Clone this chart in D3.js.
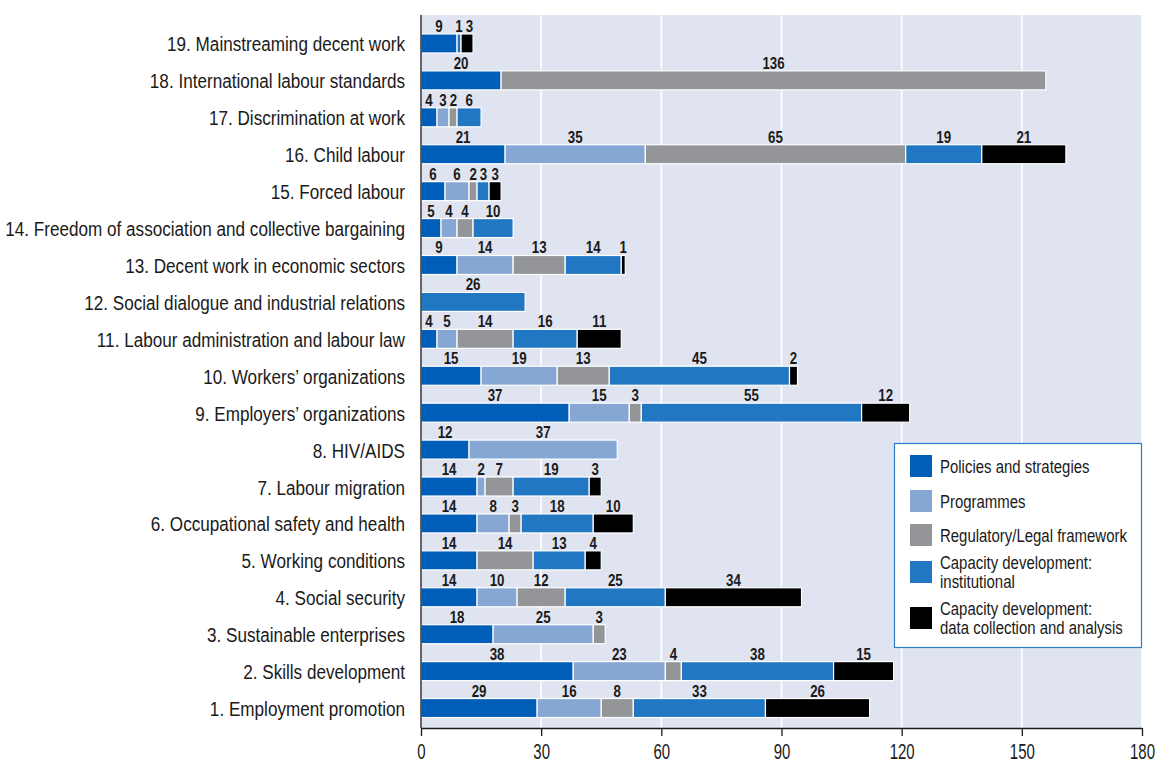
<!DOCTYPE html>
<html>
<head>
<meta charset="utf-8">
<script src="https://cdn.jsdelivr.net/npm/d3@7"></script>
<style>
  html, body { margin: 0; padding: 0; background: #fff; }
  svg { display: block; }
  text { font-family: "Liberation Sans", Arial, sans-serif; fill: #1a1a1a; }
</style>
</head>
<body>
<svg id="chart" width="1158" height="764"></svg>
<script>
// Outcome areas, bottom (1) to top (19)
const categories = [
  "1. Employment promotion",
  "2. Skills development",
  "3. Sustainable enterprises",
  "4. Social security",
  "5. Working conditions",
  "6. Occupational safety and health",
  "7. Labour migration",
  "8. HIV/AIDS",
  "9. Employers’ organizations",
  "10. Workers’ organizations",
  "11. Labour administration and labour law",
  "12. Social dialogue and industrial relations",
  "13. Decent work in economic sectors",
  "14. Freedom of association and collective bargaining",
  "15. Forced labour",
  "16. Child labour",
  "17. Discrimination at work",
  "18. International labour standards",
  "19. Mainstreaming decent work"
];

const seriesNames = [
  "Policies and strategies",
  "Programmes",
  "Regulatory/Legal framework",
  "Capacity development: institutional",
  "Capacity development: data collection and analysis"
];

// One value per category (same order as categories)
const policies      = [29, 38, 18, 14, 14, 14, 14, 12, 37, 15,  4,  0,  9,  5, 6, 21, 4, 20, 9];
const programmes    = [16, 23, 25, 10,  0,  8,  2, 37, 15, 19,  5,  0, 14,  4, 6, 35, 3,  0, 0];
const regulatory    = [ 8,  4,  3, 12, 14,  3,  7,  0,  3, 13, 14,  0, 13,  4, 2, 65, 2, 136, 0];
const institutional = [33, 38,  0, 25, 13, 18, 19,  0, 55, 45, 16, 26, 14, 10, 3, 19, 6,  0, 1];
const dataAnalysis  = [26, 15,  0, 34,  4, 10,  3,  0, 12,  2, 11,  0,  1,  0, 3, 21, 0,  0, 3];

const xTicks = [0, 30, 60, 90, 120, 150, 180];

const colors = ["#005eb8", "#86a7d4", "#939598", "#2277c3", "#000000"];

const seriesValues = [policies, programmes, regulatory, institutional, dataAnalysis];

const rows = categories.map((c, i) => {
  const r = { category: c };
  seriesNames.forEach((s, k) => { r[s] = seriesValues[k][i]; });
  return r;
});

const stacked = d3.stack().keys(seriesNames)(rows);

const svg = d3.select("#chart");
const plot = { left: 421, right: 1142, top: 15, bottom: 728 };

// Horizontal squeeze factor so a string at a given size fills a target width
function squeeze(str, size, weight, target) {
  const t = svg.append("text").attr("font-size", size).attr("font-weight", weight).text(str);
  const w = t.node().getComputedTextLength();
  t.remove();
  return target / w;
}
// Turn x/y placement into a translate + horizontal scale (condensed look)
function condense(sel, k) {
  sel.each(function () {
    const t = d3.select(this);
    const px = +t.attr("x") || 0, py = +t.attr("y") || 0;
    t.attr("x", 0).attr("y", 0).attr("dy", null)
      .attr("transform", `translate(${px},${py}) scale(${k},1)`);
  });
}

const x = d3.scaleLinear().domain([0, 180]).range([plot.left, plot.right]);
const y = d3.scaleBand()
  .domain(categories.slice().reverse())
  .range([24.5, 726])
  .padding(0);

// Plot background
svg.append("rect")
  .attr("x", plot.left).attr("y", plot.top)
  .attr("width", plot.right - plot.left)
  .attr("height", plot.bottom - plot.top)
  .attr("fill", "#dfe4f0");

// Vertical gridlines
svg.append("g")
  .selectAll("line")
  .data(xTicks.slice(1))
  .join("line")
  .attr("x1", d => x(d)).attr("x2", d => x(d))
  .attr("y1", plot.top).attr("y2", plot.bottom)
  .attr("stroke", "#ffffff")
  .attr("stroke-width", 1.6);

const barH = 19;
const barY = d => y(d.data.category) + y.bandwidth() / 2 - barH / 2 + 0.5;

// Stacked bar segments
const layers = svg.append("g")
  .selectAll("g")
  .data(stacked)
  .join("g")
  .attr("fill", (d, i) => colors[i]);

layers.selectAll("rect")
  .data(d => d.filter(s => s[1] - s[0] > 0))
  .join("rect")
  .attr("x", d => x(d[0]))
  .attr("y", barY)
  .attr("width", d => x(d[1]) - x(d[0]))
  .attr("height", barH)
  .attr("stroke", "#ffffff")
  .attr("stroke-width", 1.2);

// Segment value labels above each bar; neighbouring labels in a row are
// nudged right when they would touch
const valSize = 17;
const digitW = 7.4;
const kVal = squeeze("29", valSize, "bold", digitW * 2);
const labelData = [];
categories.forEach(cat => {
  let lastRight = -Infinity;
  stacked.forEach(layer => {
    const seg = layer.find(s => s.data.category === cat);
    const v = seg[1] - seg[0];
    if (v <= 0) return;
    const half = String(v).length * digitW / 2;
    let cx = x((seg[0] + seg[1]) / 2);
    if (cx - half < lastRight + 3) cx = lastRight + 3 + half;
    lastRight = cx + half;
    labelData.push({ seg, v, cx });
  });
});
const valLabels = svg.append("g")
  .selectAll("text")
  .data(labelData)
  .join("text")
  .attr("x", d => d.cx)
  .attr("y", d => barY(d.seg) - 2)
  .attr("text-anchor", "middle")
  .attr("font-size", valSize)
  .attr("font-weight", "bold")
  .text(d => d.v);
condense(valLabels, kVal);

// Left axis line
svg.append("line")
  .attr("x1", plot.left).attr("x2", plot.left)
  .attr("y1", plot.top).attr("y2", plot.bottom)
  .attr("stroke", "#1a1a1a").attr("stroke-width", 1.3);

// Category labels
const catSize = 21;
const kCat = squeeze("14. Freedom of association and collective bargaining", catSize, "normal", 400);
const catLabels = svg.append("g")
  .selectAll("text")
  .data(categories)
  .join("text")
  .attr("x", 405)
  .attr("y", d => y(d) + y.bandwidth() / 2 + 8.5)
  .attr("text-anchor", "end")
  .attr("font-size", catSize)
  .text(d => d);
condense(catLabels, kCat);

// Bottom axis
const xAxis = d3.axisBottom(x).tickValues(xTicks).tickSize(8).tickSizeOuter(0);
const gx = svg.append("g")
  .attr("transform", `translate(0,${plot.bottom})`)
  .call(xAxis);
gx.select(".domain").attr("stroke", "#1a1a1a").attr("stroke-width", 1.3);
gx.selectAll(".tick line").attr("stroke", "#1a1a1a").attr("stroke-width", 1.3);
const tickSize = 22;
const kTick = squeeze("180", tickSize, "normal", 25);
const tickText = gx.selectAll(".tick text")
  .attr("font-size", tickSize)
  .attr("y", 31)
  .attr("fill", "#1a1a1a")
  .attr("font-family", null);
condense(tickText, kTick);

// Legend
const legend = svg.append("g");
legend.append("rect")
  .attr("x", 894.5).attr("y", 443.5)
  .attr("width", 247).attr("height", 204)
  .attr("fill", "#ffffff")
  .attr("stroke", "#2a7bc8").attr("stroke-width", 1.2);

const legendItems = [
  { lines: ["Policies and strategies"], cy: 466 },
  { lines: ["Programmes"], cy: 501 },
  { lines: ["Regulatory/Legal framework"], cy: 535 },
  { lines: ["Capacity development:", "institutional"], cy: 572 },
  { lines: ["Capacity development:", "data collection and analysis"], cy: 618 }
];

const legSize = 18.5;
const kLeg = squeeze("Regulatory/Legal framework", legSize, "normal", 187);
legendItems.forEach((item, i) => {
  legend.append("rect")
    .attr("x", 910).attr("y", item.cy - 11)
    .attr("width", 22).attr("height", 22)
    .attr("fill", colors[i]);
  const n = item.lines.length;
  item.lines.forEach((ln, j) => {
    const t = legend.append("text")
      .attr("x", 940)
      .attr("y", item.cy + 6.5 + (j - (n - 1) / 2) * 19.5)
      .attr("font-size", legSize)
      .text(ln);
    condense(t, kLeg);
  });
});
</script>
</body>
</html>
